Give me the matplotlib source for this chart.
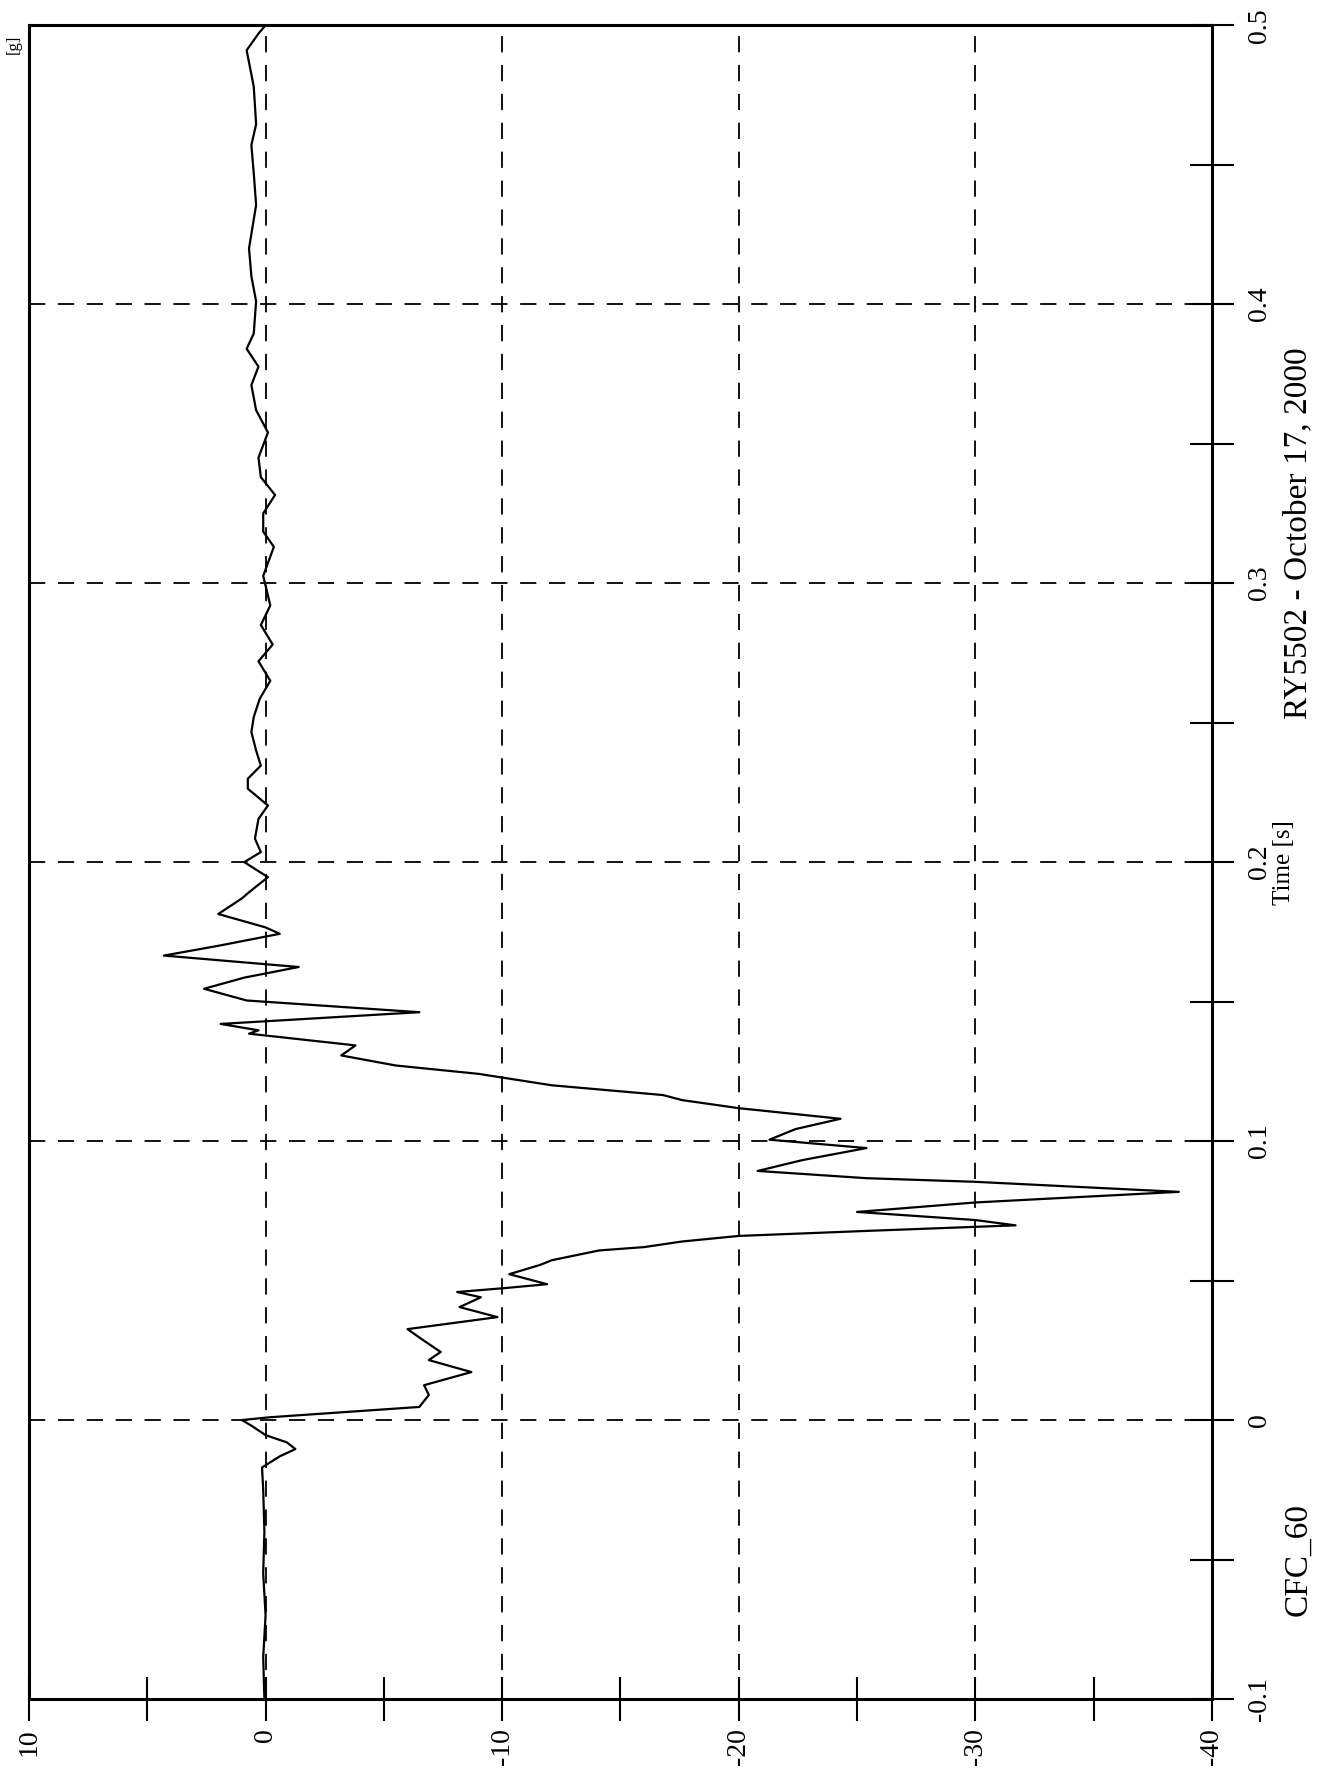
import matplotlib
matplotlib.use('Agg')
import matplotlib.pyplot as plt
from matplotlib.ticker import MultipleLocator

plt.rcParams['font.family'] = ['Liberation Serif', 'DejaVu Serif']
plt.rcParams['axes.unicode_minus'] = False

# time [s] and value [g]
time_s = [-0.100, -0.085, -0.070, -0.055, -0.040, -0.025, -0.017, -0.013, -0.0104, -0.008,
          -0.0054, -0.002, 0.000, 0.001, 0.0047, 0.009, 0.0125, 0.0172, 0.0215, 0.0244,
          0.029, 0.0326, 0.0369, 0.0405, 0.044, 0.0459, 0.0473, 0.0487, 0.0523, 0.0556,
          0.0573, 0.0608, 0.062, 0.064, 0.066, 0.0678, 0.0698, 0.0717, 0.0746, 0.078,
          0.0818, 0.0854, 0.0867, 0.0893, 0.0932, 0.0975, 0.1005, 0.1043, 0.108, 0.1118,
          0.1147, 0.1165, 0.120, 0.1241, 0.1271, 0.1307, 0.1343, 0.1385, 0.1397, 0.142,
          0.1462, 0.1504, 0.1546, 0.1586, 0.1624, 0.1665, 0.170, 0.1743, 0.1766, 0.1814,
          0.187, 0.1892, 0.1946, 0.200, 0.2036, 0.2084, 0.2155, 0.2203, 0.2263, 0.2299,
          0.2346, 0.240, 0.2466, 0.252, 0.2585, 0.265, 0.272, 0.278, 0.285, 0.292,
          0.3026, 0.313, 0.3185, 0.325, 0.3316, 0.338, 0.345, 0.354, 0.362, 0.371,
          0.3776, 0.384, 0.3895, 0.401, 0.410, 0.420, 0.4355, 0.447, 0.457, 0.4645,
          0.478, 0.491, 0.497, 0.500]
accel_g = [0.05, 0.1, 0.0, 0.1, 0.05, 0.1, 0.15, -0.6, -1.26, -0.9,
           0.0, 0.6, 1.0, -0.17, -6.5, -6.9, -6.7, -8.7, -6.9, -7.4,
           -6.6, -6.0, -9.8, -8.2, -9.1, -8.1, -10.1, -11.9, -10.3, -11.6,
           -12.1, -14.1, -16.0, -17.6, -20.0, -25.4, -31.7, -30.0, -25.0, -30.0,
           -38.6, -30.0, -25.4, -20.8, -22.7, -25.4, -21.3, -22.4, -24.3, -20.0,
           -17.6, -16.8, -12.1, -9.0, -5.5, -3.2, -3.8, 0.7, 0.3, 1.9,
           -6.5, 0.8, 2.6, 0.9, -1.4, 4.3, 2.0, -0.6, 0.0, 2.0,
           1.0, 0.7, -0.1, 0.9, 0.2, 0.45, 0.3, -0.1, 0.75, 0.75,
           0.2, 0.4, 0.6, 0.5, 0.25, -0.2, 0.3, -0.3, 0.2, -0.2,
           0.1, -0.35, 0.1, 0.1, -0.4, 0.2, 0.3, -0.1, 0.4, 0.6,
           0.3, 0.8, 0.5, 0.4, 0.6, 0.7, 0.4, 0.5, 0.6, 0.4,
           0.5, 0.8, 0.3, 0.0]

value_ticks = [10, 0, -10, -20, -30, -40]
time_ticks = [-0.1, 0, 0.1, 0.2, 0.3, 0.4, 0.5]
time_labels = ['-0.1', '0', '0.1', '0.2', '0.3', '0.4', '0.5']

fig = plt.figure(figsize=(13.18, 17.75), dpi=100)
ax = fig.add_axes([0.022, 0.0428, 0.8975, 0.943])

ax.plot(accel_g, time_s, color='black', lw=1.6)

ax.set_xlim(10, -40)
ax.set_ylim(-0.1, 0.5)

ax.set_xticks(value_ticks)
ax.set_xticklabels([str(v) for v in value_ticks])
ax.xaxis.set_minor_locator(MultipleLocator(5))
ax.set_yticks(time_ticks)
ax.set_yticklabels(time_labels)
ax.yaxis.set_minor_locator(MultipleLocator(0.05))
ax.yaxis.tick_right()

ax.tick_params(axis='x', which='both', direction='inout', length=32, width=1.5,
               labelrotation=90, labelsize=20, pad=5)
ax.tick_params(axis='y', which='both', direction='inout', length=32, width=1.5,
               labelrotation=90, labelsize=20, pad=9)
for lab in ax.get_yticklabels():
    lab.set_va('center')

for s in ax.spines.values():
    s.set_linewidth(2.2)
    s.set_color('black')

ax.grid(True, which='major', color='black', lw=1.3, linestyle=(0, (9, 7)))

ax.text(1.061, 0.2, 'Time [s]', transform=ax.get_yaxis_transform(),
        rotation=90, fontsize=18, ha='center', va='center')
ax.text(1.073, 0.318, 'RY5502 - October 17, 2000', transform=ax.get_yaxis_transform(),
        rotation=90, fontsize=24, ha='center', va='center')
ax.text(1.073, -0.05, 'CFC_60', transform=ax.get_yaxis_transform(),
        rotation=90, fontsize=24, ha='center', va='center')
fig.text(0.004, 0.975, '[g]', rotation=90, fontsize=12, ha='left', va='center')

fig.savefig('out.png', dpi=100, facecolor='white')
